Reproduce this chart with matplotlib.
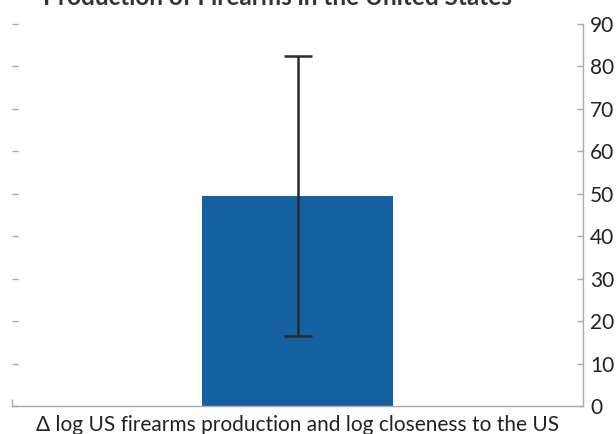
import matplotlib
matplotlib.use("Agg")
import matplotlib.pyplot as plt

categories = ["Δ log US firearms production and log closeness to the US"]
values = [49.5]
errors = [33.0]
yticks = [0, 10, 20, 30, 40, 50, 60, 70, 80, 90]

plt.rcParams["font.family"] = ["Lato", "DejaVu Sans"]

fig = plt.figure(figsize=(6.16, 4.34), dpi=100)
ax = fig.add_axes([12 / 616, 28 / 434, 571 / 616, 382 / 434])

ax.bar([0], values, width=0.672, color="#15609E", zorder=2)
ax.errorbar([0], values, yerr=errors, fmt="none", ecolor="#2b2b2b",
            elinewidth=1.8, capsize=10, capthick=1.8, zorder=3)

ax.set_xlim(-1, 1)
ax.set_ylim(0, 90)
ax.set_xticks([-1])
ax.set_xticklabels([""])
ax.tick_params(axis="x", direction="in", length=5, width=1, color="#aaaaaa")
ax.set_yticks(yticks)

ax.yaxis.tick_right()
ax.tick_params(axis="y", which="both", right=True, left=True, labelleft=False,
               labelright=True, direction="in", length=4, width=1,
               color="#aaaaaa", labelsize=15, labelcolor="#222222", pad=5)

for side in ("top", "left"):
    ax.spines[side].set_visible(False)
for side in ("bottom", "right"):
    ax.spines[side].set_color("#aaaaaa")
    ax.spines[side].set_linewidth(1)

ax.set_xlabel(categories[0], fontsize=15, color="#222222", labelpad=3)

fig.text(277 / 616, 1.006, "Production of Firearms in the United States",
         ha="center", va="center", fontsize=17.5, fontweight="bold",
         color="#333333")

fig.savefig("out.png", dpi=100)
